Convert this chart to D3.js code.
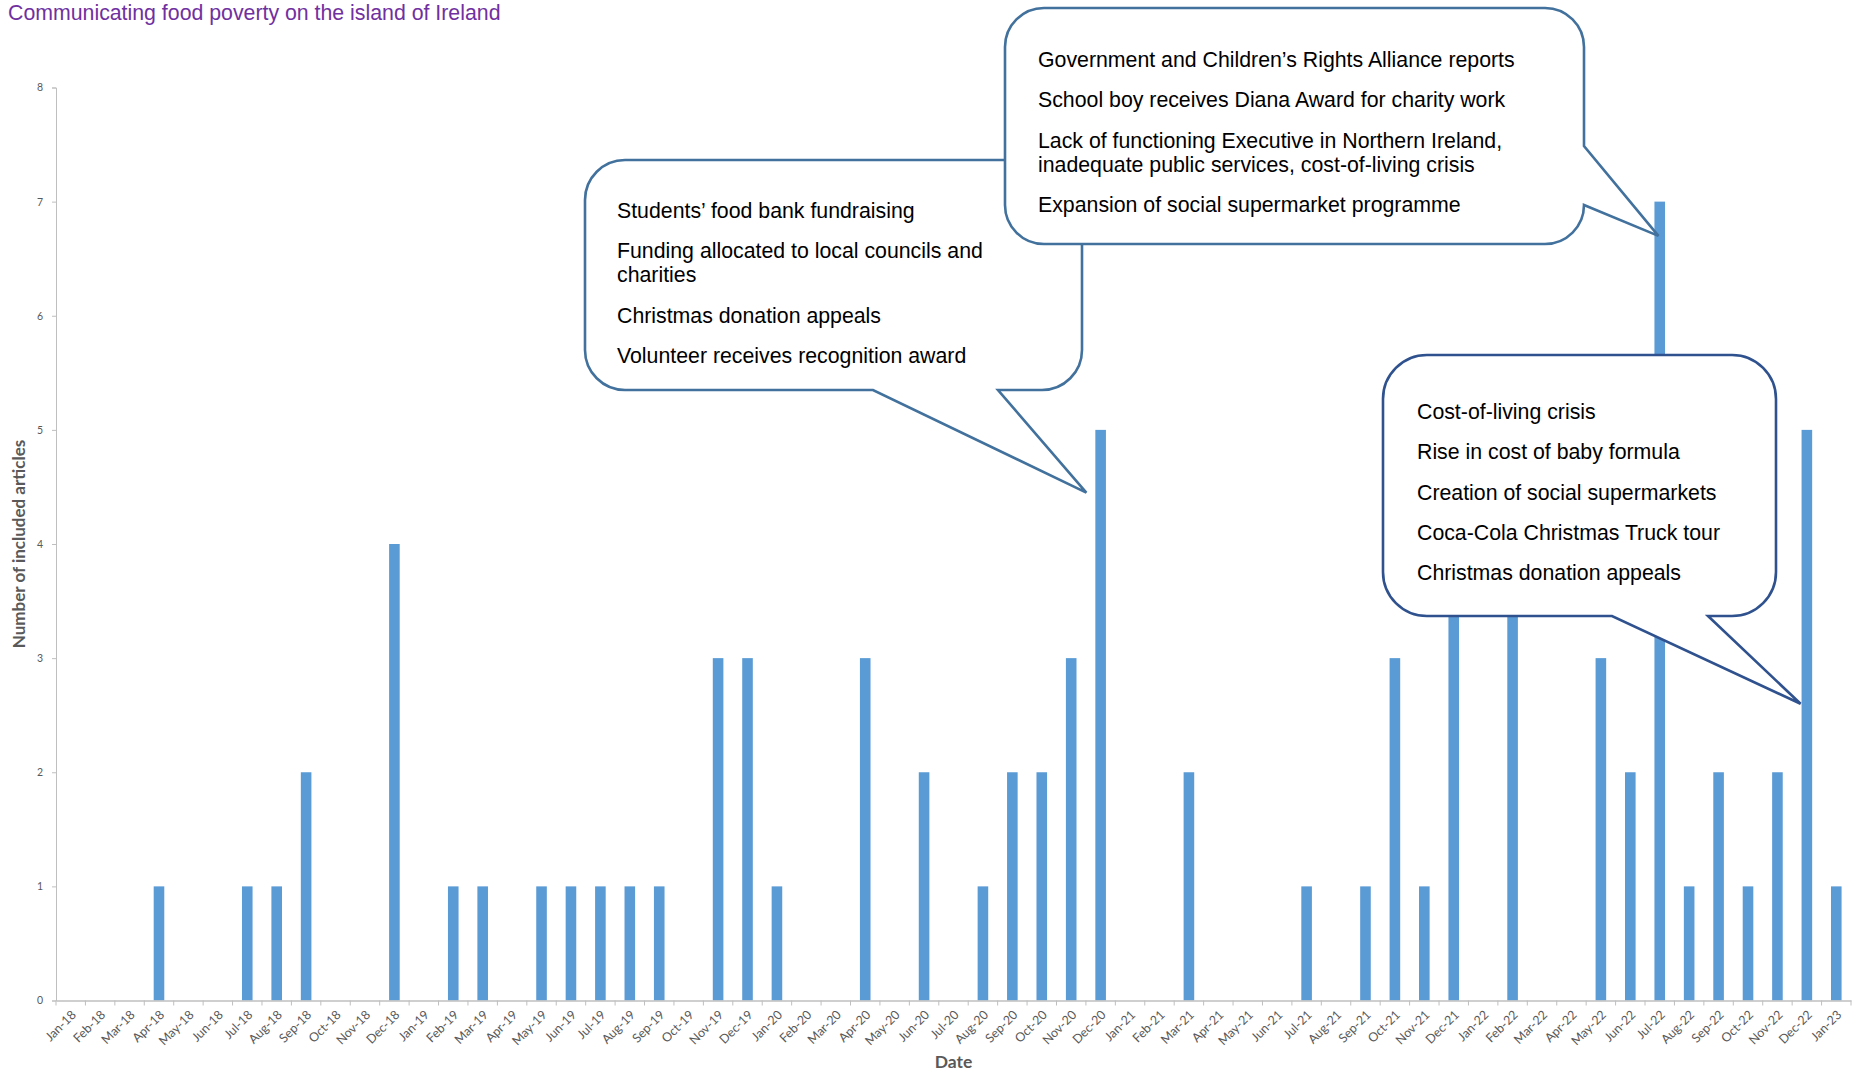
<!DOCTYPE html>
<html>
<head>
<meta charset="utf-8">
<script src="https://cdn.jsdelivr.net/npm/d3@7"></script>
<style>
  html, body { margin: 0; padding: 0; background: #fff; }
  svg { display: block; }
</style>
</head>
<body>
<svg id="chart" width="1854" height="1072"></svg>
<script>
// data
const months = [
  "Jan-18","Feb-18","Mar-18","Apr-18","May-18","Jun-18","Jul-18","Aug-18","Sep-18","Oct-18","Nov-18","Dec-18",
  "Jan-19","Feb-19","Mar-19","Apr-19","May-19","Jun-19","Jul-19","Aug-19","Sep-19","Oct-19","Nov-19","Dec-19",
  "Jan-20","Feb-20","Mar-20","Apr-20","May-20","Jun-20","Jul-20","Aug-20","Sep-20","Oct-20","Nov-20","Dec-20",
  "Jan-21","Feb-21","Mar-21","Apr-21","May-21","Jun-21","Jul-21","Aug-21","Sep-21","Oct-21","Nov-21","Dec-21",
  "Jan-22","Feb-22","Mar-22","Apr-22","May-22","Jun-22","Jul-22","Aug-22","Sep-22","Oct-22","Nov-22","Dec-22",
  "Jan-23"
];
const articles = [
  0,0,0,1,0,0,1,1,2,0,0,4,
  0,1,1,0,1,1,1,1,1,0,3,3,
  1,0,0,3,0,2,0,1,2,2,3,5,
  0,0,2,0,0,0,1,0,1,3,1,5,
  0,4,0,0,3,2,7,1,2,1,2,5,
  1
];
const yTicks = [0,1,2,3,4,5,6,7,8];

const titleText = "Communicating food poverty on the island of Ireland";
const yTitle = "Number of included articles";
const xTitle = "Date";

const notesDec20 = [
  ["Students\u2019 food bank fundraising"],
  ["Funding allocated to local councils and", "charities"],
  ["Christmas donation appeals"],
  ["Volunteer receives recognition award"]
];
const notesJul22 = [
  ["Government and Children\u2019s Rights Alliance reports"],
  ["School boy receives Diana Award for charity work"],
  ["Lack of functioning Executive in Northern Ireland,", "inadequate public services, cost-of-living crisis"],
  ["Expansion of social supermarket programme"]
];
const notesDec22 = [
  ["Cost-of-living crisis"],
  ["Rise in cost of baby formula"],
  ["Creation of social supermarkets"],
  ["Coca-Cola Christmas Truck tour"],
  ["Christmas donation appeals"]
];

const svg = d3.select("#chart");
const plotLeft = 56, plotRight = 1851, plotTop = 87.5, plotBottom = 1000.5;
const axisGrey = "#BFBFBF";
const labelGrey = "#595959";

const x = d3.scaleBand().domain(months).range([plotLeft, plotRight])
  .paddingInner(0.64).paddingOuter(0.32);
const y = d3.scaleLinear().domain([0, 8]).range([plotBottom, plotTop]);

// title
svg.append("text")
  .attr("x", 8).attr("y", 20)
  .attr("fill", "#7030A0")
  .style("font-family", "'Liberation Sans', Arial, sans-serif")
  .style("font-size", "21.3px")
  .text(titleText);

// bars
svg.append("g")
  .selectAll("rect")
  .data(months.map((m, i) => ({ m, v: articles[i] })))
  .join("rect")
  .attr("x", d => x(d.m))
  .attr("width", x.bandwidth())
  .attr("y", d => y(d.v))
  .attr("height", d => y(0) - y(d.v))
  .attr("fill", "#5B9BD5");

// y axis
const yAxis = svg.append("g")
  .attr("transform", `translate(${plotLeft},0)`)
  .call(d3.axisLeft(y).tickValues(yTicks).tickFormat(d3.format("d")).tickSizeOuter(0).tickSize(4).tickPadding(9));
yAxis.select(".domain").attr("stroke", axisGrey);
yAxis.selectAll(".tick line").attr("stroke", axisGrey);
yAxis.selectAll(".tick text")
  .attr("fill", labelGrey)
  .style("font-family", "Lato, 'Open Sans', sans-serif")
  .style("font-size", "10.5px");

// x axis, ticks sit between categories
const xAxis = svg.append("g")
  .attr("transform", `translate(0,${plotBottom})`)
  .call(d3.axisBottom(x).tickSize(0).tickSizeOuter(0));
xAxis.select(".domain").attr("stroke", axisGrey).attr("stroke-width", 1.5);
xAxis.selectAll(".tick text")
  .attr("x", 0).attr("y", 0).attr("dy", "0.35em")
  .attr("transform", "translate(3,12) rotate(-45)")
  .style("text-anchor", "end")
  .attr("fill", labelGrey)
  .style("font-family", "Lato, 'Open Sans', sans-serif")
  .style("font-size", "12.5px");
xAxis.append("g")
  .selectAll("line")
  .data(d3.range(months.length + 1))
  .join("line")
  .attr("x1", i => plotLeft + i * x.step())
  .attr("x2", i => plotLeft + i * x.step())
  .attr("y1", 0).attr("y2", 5)
  .attr("stroke", axisGrey);

// axis titles
svg.append("text")
  .attr("transform", `translate(25,${(plotTop + plotBottom) / 2}) rotate(-90)`)
  .attr("text-anchor", "middle")
  .attr("fill", labelGrey)
  .style("font-family", "Lato, sans-serif")
  .style("font-weight", "bold")
  .style("font-size", "17px")
  .text(yTitle);

svg.append("text")
  .attr("x", (plotLeft + plotRight) / 2).attr("y", 1068)
  .attr("text-anchor", "middle")
  .attr("fill", labelGrey)
  .style("font-family", "Lato, sans-serif")
  .style("font-weight", "bold")
  .style("font-size", "17.5px")
  .text(xTitle);

// speech bubbles
function bubblePath(b) {
  const { x0, y0, x1, y1, r, side, a, c, tip } = b;
  let p = `M${x0 + r},${y0} H${x1 - r} A${r},${r} 0 0 1 ${x1},${y0 + r}`;
  if (side === "right") p += ` V${a} L${tip[0]},${tip[1]} L${x1},${c}`;
  p += ` V${y1 - r} A${r},${r} 0 0 1 ${x1 - r},${y1}`;
  if (side === "bottom") p += ` H${c} L${tip[0]},${tip[1]} L${a},${y1}`;
  p += ` H${x0 + r} A${r},${r} 0 0 1 ${x0},${y1 - r} V${y0 + r} A${r},${r} 0 0 1 ${x0 + r},${y0} Z`;
  return p;
}

function bubble(b, notes) {
  const g = svg.append("g");
  g.append("path")
    .attr("d", bubblePath(b))
    .attr("fill", "#fff")
    .attr("stroke", b.stroke)
    .attr("stroke-width", 2.6)
    .attr("stroke-linejoin", "miter");
  let base = b.first;
  notes.forEach(lines => {
    lines.forEach((line, j) => {
      g.append("text")
        .attr("x", b.tx)
        .attr("y", base + j * 24)
        .attr("fill", "#000")
        .style("font-family", "'Liberation Sans', Arial, sans-serif")
        .style("font-size", "21.3px")
        .text(line);
    });
    base += 40.3 + (lines.length - 1) * 24;
  });
}

bubble({ x0: 585, y0: 160, x1: 1082, y1: 390, r: 40, side: "bottom", a: 873, c: 998,
  tip: [x("Dec-20") - 9, y(4.45)], stroke: "#41719C", tx: 617, first: 218 }, notesDec20);
bubble({ x0: 1005, y0: 8, x1: 1584, y1: 244, r: 39, side: "right", a: 146, c: 205,
  tip: [x("Jul-22") + 4, y(6.7)], stroke: "#41719C", tx: 1038, first: 67 }, notesJul22);
bubble({ x0: 1383, y0: 355, x1: 1776, y1: 616, r: 44, side: "bottom", a: 1612, c: 1708,
  tip: [x("Dec-22") - 1, y(2.6)], stroke: "#2F528F", tx: 1417, first: 419 }, notesDec22);
</script>
</body>
</html>
